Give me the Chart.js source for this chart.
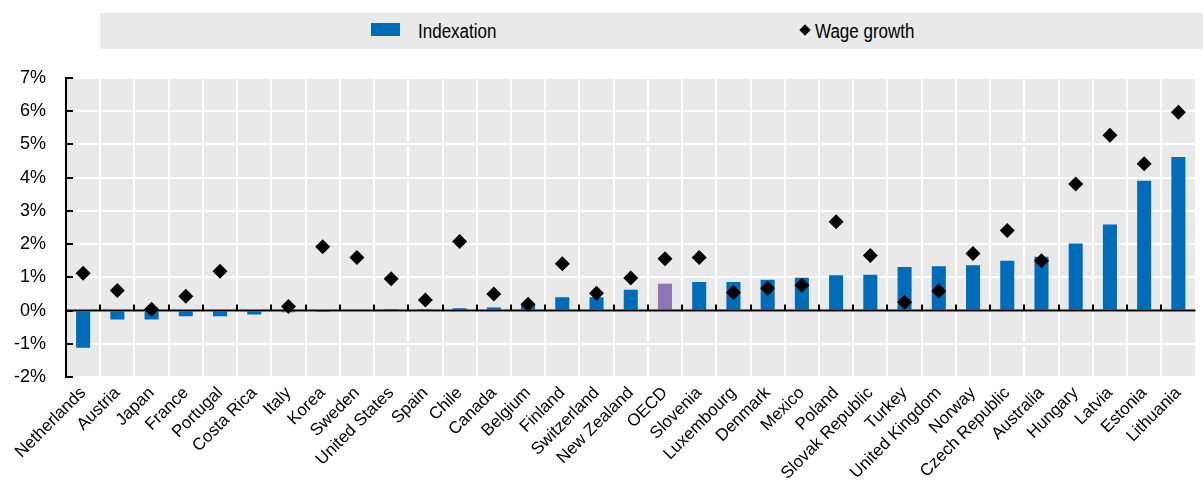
<!DOCTYPE html>
<html>
<head>
<meta charset="utf-8">
<script src="https://cdn.jsdelivr.net/npm/chart.js@4.4.1/dist/chart.umd.min.js"></script>
<style>
  html, body { margin: 0; padding: 0; background: #fff; }
  #wrap { position: relative; width: 1203px; height: 482px; }
  #legend {
    position: absolute; left: 100px; top: 13px; width: 1103px; height: 36px;
    background: #e9e9e9;
    font-family: "Liberation Sans", Arial, sans-serif;
    font-size: 20px; color: #000;
  }
  .lg-item { position: absolute; top: 0; height: 36px; line-height: 36px; transform: scaleX(0.85); transform-origin: left center; white-space: nowrap; }
  .sw-bar { position: absolute; left: 271px; top: 10px; width: 29px; height: 13px; background: #006bb6; }
  .sw-dia { position: absolute; left: 701px; top: 13px; width: 8px; height: 8px; background: #000; transform: rotate(45deg); }
</style>
</head>
<body>
<div id="wrap">
  <canvas id="c" width="1203" height="482"></canvas>
  <div id="legend">
    <div class="sw-bar"></div>
    <div class="lg-item" style="left:318px">Indexation</div>
    <div class="sw-dia"></div>
    <div class="lg-item" style="left:715px">Wage growth</div>
  </div>
</div>
<script>
const categories = [
  "Netherlands", "Austria", "Japan", "France", "Portugal", "Costa Rica", "Italy",
  "Korea", "Sweden", "United States", "Spain", "Chile", "Canada", "Belgium",
  "Finland", "Switzerland", "New Zealand", "OECD", "Slovenia", "Luxembourg",
  "Denmark", "Mexico", "Poland", "Slovak Republic", "Turkey", "United Kingdom",
  "Norway", "Czech Republic", "Australia", "Hungary", "Latvia", "Estonia", "Lithuania"
];
const indexation = [
  -1.12, -0.27, -0.27, -0.17, -0.17, -0.12, -0.05,
  -0.01, 0.0, 0.02, 0.01, 0.07, 0.09, 0.2,
  0.4, 0.4, 0.63, 0.81, 0.86, 0.86,
  0.93, 0.99, 1.06, 1.08, 1.31, 1.33,
  1.36, 1.5, 1.62, 2.02, 2.59, 3.91, 4.62
];
const wageGrowth = [
  1.12, 0.6, 0.04, 0.43, 1.18, null, 0.12,
  1.92, 1.6, 0.96, 0.32, 2.08, 0.5, 0.19,
  1.41, 0.52, 0.98, 1.56, 1.6, 0.54,
  0.67, 0.76, 2.67, 1.66, 0.25, 0.59,
  1.72, 2.41, 1.5, 3.81, 5.28, 4.42, 5.97
];
const yMin = -2;
const yMax = 7;

const FONT = "'Liberation Sans', Arial, sans-serif";
const BLUE = "#006bb6";
const PURPLE = "#8d76b6";

const plotDecor = {
  id: "plotDecor",
  beforeDraw(chart) {
    const { ctx, chartArea: a } = chart;
    ctx.save();
    ctx.fillStyle = "#e9e9e9";
    ctx.fillRect(a.left, a.top, a.right - a.left, a.bottom - a.top);
    ctx.restore();
  },
  beforeDatasetDraw(chart, args) {
    if (args.index !== 1) return;
    const { ctx, chartArea: a, scales } = chart;
    const y0 = scales.y.getPixelForValue(0);
    ctx.save();
    ctx.strokeStyle = "#000";
    ctx.lineWidth = 2;
    ctx.beginPath();
    ctx.moveTo(a.left, y0);
    ctx.lineTo(a.right, y0);
    // category boundary ticks on the zero line
    for (let i = 1; i < categories.length; i++) {
      const x = Math.round((scales.x.getPixelForValue(i) + scales.x.getPixelForValue(i - 1)) / 2);
      ctx.moveTo(x, y0);
      ctx.lineTo(x, y0 - 6);
    }
    // inward ticks on the y axis
    for (let v = yMin; v <= yMax; v++) {
      const y = Math.round(scales.y.getPixelForValue(v));
      ctx.moveTo(a.left, y);
      ctx.lineTo(a.left + 7, y);
    }
    ctx.stroke();
    ctx.restore();
  },
};

new Chart(document.getElementById("c"), {
  type: "bar",
  data: {
    labels: categories,
    datasets: [
      {
        label: "Indexation",
        data: indexation,
        backgroundColor: categories.map((c) => (c === "OECD" ? PURPLE : BLUE)),
        borderWidth: 0,
        categoryPercentage: 1,
        barPercentage: 0.41,
        order: 1,
      },
      {
        type: "line",
        label: "Wage growth",
        data: wageGrowth,
        showLine: false,
        pointStyle: "rectRot",
        pointRadius: 7.5,
        pointHoverRadius: 7.5,
        pointBackgroundColor: "#000",
        pointBorderColor: "#000",
        pointBorderWidth: 0,
        order: 0,
      },
    ],
  },
  options: {
    responsive: false,
    animation: false,
    layout: { padding: { top: 78, right: 0, left: 0, bottom: 0 } },
    plugins: {
      legend: { display: false },
      tooltip: { enabled: false },
    },
    scales: {
      x: {
        offset: true,
        grid: { color: "#ffffff", lineWidth: 2, offset: true, drawTicks: false },
        border: { display: false },
        ticks: {
          color: "#000",
          font: { family: FONT, size: 17 },
          minRotation: 45,
          maxRotation: 45,
          autoSkip: false,
          padding: 6,
        },
        afterFit(scale) { scale.height = 105; },
      },
      y: {
        min: yMin,
        max: yMax,
        grid: { color: "#ffffff", lineWidth: 2, drawTicks: false },
        border: { display: true, color: "#000", width: 2 },
        ticks: {
          stepSize: 1,
          color: "#000",
          font: { family: FONT, size: 18 },
          padding: 20,
          callback: (v) => v + "%",
        },
        afterFit(scale) { scale.width = 66; },
      },
    },
  },
  plugins: [plotDecor],
});
</script>
</body>
</html>
